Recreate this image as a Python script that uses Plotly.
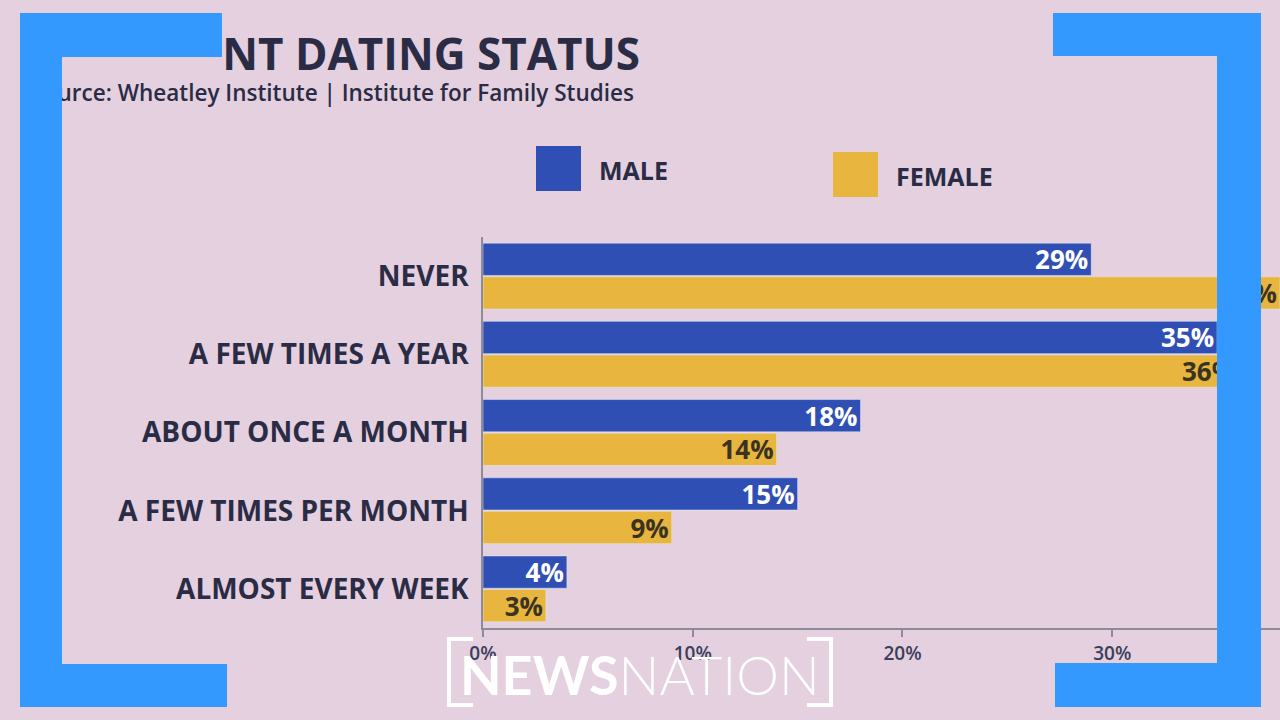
import plotly.graph_objects as go

# canvas size
W, H = 1280, 720
# the photographed page comes out squeezed about 14px in from the left edge,
# so horizontal positions are given in screen pixels and mapped through this
X_SHIFT = 14

categories = ["NEVER", "A FEW TIMES A YEAR", "ABOUT ONCE A MONTH",
              "A FEW TIMES PER MONTH", "ALMOST EVERY WEEK"]
male = [29, 35, 18, 15, 4]
female = [38, 36, 14, 9, 3]   # first value is cut off by the frame, estimated
x_ticks = [0, 10, 20, 30]
x_tick_labels = ["0%", "10%", "20%", "30%"]

title_text = "CURRENT DATING STATUS"
source_text = "Source: Wheatley Institute | Institute for Family Studies"

BLUE = "#2f4fb4"
GOLD = "#e8b53e"
FRAME = "#3399fe"
INK = "#2a2c45"
BG = "#e4d0df"
AXIS = "#8e8a9a"
FONT = "Open Sans"


def px(x):
    return (x - X_SHIFT) / (W - X_SHIFT)


def py(y):
    return 1 - y / H


fig = go.Figure()

#bars, male on top of each pair
fig.add_trace(go.Bar(
    y=categories, x=male, name="MALE", orientation="h", marker_color=BLUE,
    text=[f"{v}%" for v in male], textposition="inside", insidetextanchor="end",
    textfont=dict(family=FONT, size=26, color="white", weight=700),
    constraintext="none", hoverinfo="skip"))
fig.add_trace(go.Bar(
    y=categories, x=female, name="FEMALE", orientation="h", marker_color=GOLD,
    text=[f"{v}%" for v in female], textposition="inside", insidetextanchor="end",
    textfont=dict(family=FONT, size=26, color="#3b3322", weight=700),
    constraintext="none", hoverinfo="skip"))

#title and source as clipped text so the frame cuts them like in the photo
fig.add_trace(go.Scatter(
    x=[640], y=[59], text=[title_text], mode="text", textposition="middle left",
    textfont=dict(family=FONT, size=44, color=INK, weight=700),
    xaxis="x2", yaxis="y2", hoverinfo="skip", cliponaxis=True))
fig.add_trace(go.Scatter(
    x=[634], y=[95], text=[source_text], mode="text", textposition="middle left",
    textfont=dict(family=FONT, size=22.5, color=INK, weight=600),
    xaxis="x3", yaxis="y2", hoverinfo="skip", cliponaxis=True))

shapes = []
annotations = []

#legend squares and labels
legend_items = [("MALE", BLUE, 536, 146), ("FEMALE", GOLD, 833, 152)]
for label, color, lx, ly in legend_items:
    shapes.append(dict(type="rect", xref="paper", yref="paper",
                       x0=px(lx), x1=px(lx + 45), y0=py(ly + 45), y1=py(ly),
                       fillcolor=color, line_width=0))
    annotations.append(dict(xref="paper", yref="paper", x=px(lx + 61), y=py(ly + 24),
                            text=label, showarrow=False, xanchor="left", yanchor="middle",
                            font=dict(family=FONT, size=25, color=INK, weight=700)))

#blue corner frame over the picture
frame_rects = [
    (20, 13, 222, 57), (20, 13, 62, 707), (20, 664, 227, 707),
    (1053, 13, 1261, 56), (1217, 13, 1261, 707), (1055, 663, 1261, 707),
]
for x0, y0, x1, y1 in frame_rects:
    shapes.append(dict(type="rect", xref="paper", yref="paper", layer="above",
                       x0=px(x0), x1=px(x1), y0=py(y1), y1=py(y0),
                       fillcolor=FRAME, line_width=0))

#newsnation bug
left_bracket = f"M {px(473)},{py(639)} L {px(449)},{py(639)} L {px(449)},{py(705)} L {px(473)},{py(705)}"
right_bracket = f"M {px(807)},{py(639)} L {px(831)},{py(639)} L {px(831)},{py(705)} L {px(807)},{py(705)}"
for p in (left_bracket, right_bracket):
    shapes.append(dict(type="path", xref="paper", yref="paper", layer="above",
                       path=p, line=dict(color="white", width=4)))
annotations.append(dict(xref="paper", yref="paper", x=px(640), y=py(674),
                        text="<b>NEWS</b>NATION", showarrow=False,
                        xanchor="center", yanchor="middle",
                        font=dict(family="Lato", size=54, color="white", weight=300)))

fig.update_layout(
    width=W, height=H,
    margin=dict(l=0, r=0, t=0, b=0),
    paper_bgcolor=BG, plot_bgcolor="rgba(0,0,0,0)",
    barmode="group", bargap=0.14, bargroupgap=0.04,
    showlegend=False,
    xaxis=dict(domain=[px(483), 1], range=[0, 38], tickvals=x_ticks, ticktext=x_tick_labels,
               showgrid=False, zeroline=False, showline=True, linecolor=AXIS, linewidth=1.5,
               ticks="outside", ticklen=7, tickcolor=AXIS, tickwidth=1.5,
               tickfont=dict(family=FONT, size=19, color="#3a3f5a", weight=600),
               fixedrange=True),
    yaxis=dict(domain=[py(628), py(237)], autorange="reversed",
               showgrid=False, zeroline=False, showline=True, linecolor=AXIS, linewidth=1.5,
               ticks="", ticklabelstandoff=7,
               tickfont=dict(family=FONT, size=28, color=INK, weight=700),
               fixedrange=True),
    xaxis2=dict(domain=[px(222), 1], range=[222, W], visible=False, anchor="y2", fixedrange=True),
    xaxis3=dict(domain=[px(62), 1], range=[62, W], visible=False, anchor="y2", fixedrange=True),
    yaxis2=dict(domain=[0, 1], range=[H, 0], visible=False, anchor="x2", fixedrange=True),
    shapes=shapes,
    annotations=annotations,
)

fig.write_html("out.html", config={"displayModeBar": False},
               post_script="document.body.style.margin = '0px'; document.body.style.overflow = 'hidden';")
